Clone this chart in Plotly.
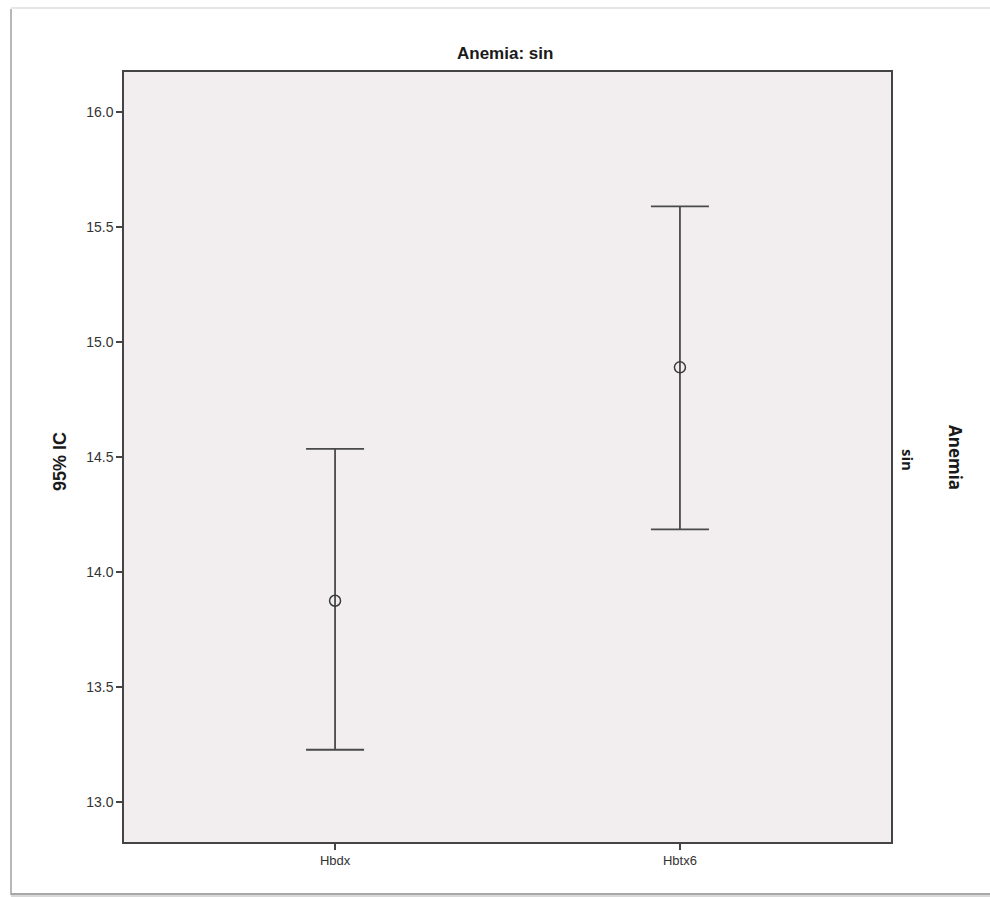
import plotly.graph_objects as go

categories = ["Hbdx", "Hbtx6"]
means = [13.875, 14.89]
upper = [14.535, 15.59]
lower = [13.227, 14.185]
y_ticks = [13.0, 13.5, 14.0, 14.5, 15.0, 15.5, 16.0]

W, H = 990, 897
L, R, T, B = 124, 891, 72, 842

def px(x):
    return (x - L) / (R - L)

def py(y):
    return (B - y) / (B - T)

err_plus = [u - m for u, m in zip(upper, means)]
err_minus = [m - l for m, l in zip(means, lower)]

fig = go.Figure()
fig.add_trace(go.Scatter(
    x=categories, y=means, mode="markers",
    marker=dict(symbol="circle-open", size=11, color="#3a3a3a", line=dict(width=1.5)),
    error_y=dict(type="data", symmetric=False, array=err_plus, arrayminus=err_minus,
                 color="#4a4a4a", thickness=1.8, width=29),
    showlegend=False, hoverinfo="skip",
))

axis_common = dict(showline=True, linecolor="#444444", linewidth=1.5, mirror=True,
                   showgrid=False, zeroline=False, ticks="outside", ticklen=6,
                   tickcolor="#444444", tickwidth=1.5)

fig.update_layout(
    width=W, height=H,
    margin=dict(l=L, r=W - R, t=T, b=H - B, autoexpand=False),
    paper_bgcolor="white", plot_bgcolor="#F2EEEF",
    xaxis=dict(range=[-0.612, 1.612], tickvals=[0, 1], ticktext=categories,
               tickfont=dict(family="Arial, Liberation Sans", size=13, color="#333333"),
               **axis_common),
    yaxis=dict(range=[12.826, 16.174], tickvals=y_ticks,
               ticktext=[f"{v:.1f}" for v in y_ticks],
               tickfont=dict(family="Arial, Liberation Sans", size=14, color="#333333"),
               **axis_common),
    font=dict(family="Arial, Liberation Sans", color="#222222"),
)

annotations = [
    dict(text="<b>Anemia: sin</b>", x=px(505), y=py(53), xref="paper", yref="paper",
         showarrow=False, font=dict(size=17, color="#1a1a1a"), xanchor="center", yanchor="middle"),
    dict(text="<b>95% IC</b>", x=px(60), y=py(462), xref="paper", yref="paper",
         showarrow=False, textangle=-90, font=dict(size=18, color="#1a1a1a"),
         xanchor="center", yanchor="middle"),
    dict(text="<b>Anemia</b>", x=px(956), y=py(457), xref="paper", yref="paper",
         showarrow=False, textangle=90, font=dict(family="Open Sans, DejaVu Sans", size=17, color="#1a1a1a"),
         xanchor="center", yanchor="middle"),
    dict(text="<b>sin</b>", x=px(908), y=py(460), xref="paper", yref="paper",
         showarrow=False, textangle=90, font=dict(family="Open Sans, DejaVu Sans", size=15, color="#1a1a1a"),
         xanchor="center", yanchor="middle"),
]
fig.update_layout(annotations=annotations)

shapes = [
    dict(type="line", xref="paper", yref="paper", x0=px(11), x1=px(11), y0=py(9), y1=py(895),
         line=dict(color="#b8b8b8", width=2)),
    dict(type="line", xref="paper", yref="paper", x0=px(11), x1=px(990), y0=py(8), y1=py(8),
         line=dict(color="#e6e6e6", width=2)),
    dict(type="line", xref="paper", yref="paper", x0=px(11), x1=px(990), y0=py(894), y1=py(894),
         line=dict(color="#a8a8a8", width=2)),
    dict(type="line", xref="paper", yref="paper", x0=px(11), x1=px(990), y0=py(896), y1=py(896),
         line=dict(color="#d8d8d8", width=2)),
]
fig.update_layout(shapes=shapes)

fig.write_html("out.html")
